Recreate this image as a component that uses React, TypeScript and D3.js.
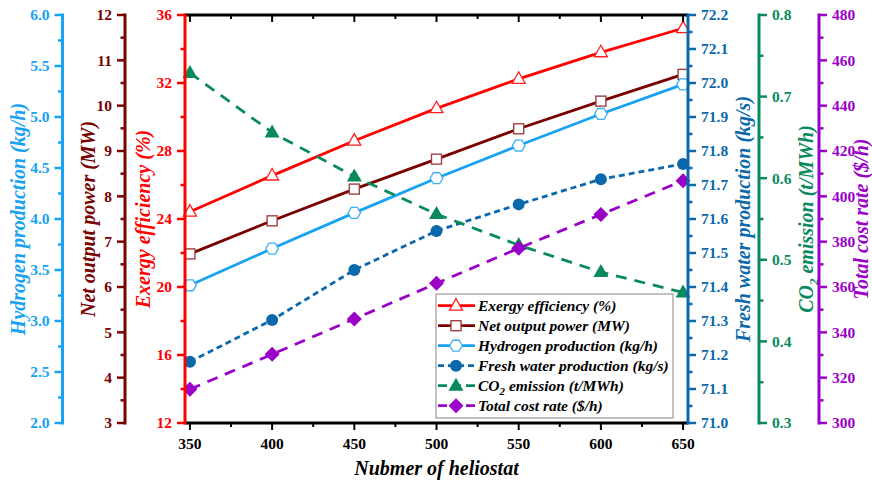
import React from 'react';
import * as d3 from 'd3';

const heliostats = [350, 400, 450, 500, 550, 600, 650];
const exergy = [24.43, 26.55, 28.6, 30.51, 32.24, 33.8, 35.22];
const netPower = [6.73, 7.46, 8.16, 8.82, 9.49, 10.1, 10.69];
const hydrogen = [3.35, 3.71, 4.06, 4.4, 4.72, 5.03, 5.32];
const freshWater = [71.18, 71.303, 71.45, 71.565, 71.643, 71.717, 71.762];
const co2 = [0.729, 0.656, 0.602, 0.556, 0.518, 0.485, 0.46];
const totalCost = [314.9, 330.3, 345.9, 361.6, 377.1, 392.0, 406.9];

const xTicks = [350, 400, 450, 500, 550, 600, 650];
const h2Ticks = [2.0, 2.5, 3.0, 3.5, 4.0, 4.5, 5.0, 5.5, 6.0];
const powerTicks = [3, 4, 5, 6, 7, 8, 9, 10, 11, 12];
const exergyTicks = [12, 16, 20, 24, 28, 32, 36];
const waterTicks = [71.0, 71.1, 71.2, 71.3, 71.4, 71.5, 71.6, 71.7, 71.8, 71.9, 72.0, 72.1, 72.2];
const co2Ticks = [0.3, 0.4, 0.5, 0.6, 0.7, 0.8];
const costTicks = [300, 320, 340, 360, 380, 400, 420, 440, 460, 480];

const FONT = "'Liberation Serif', 'Times New Roman', serif";
const P = { left: 185, right: 688, top: 15, bottom: 423 };

const C = {
  h2: '#18a2f2',
  power: '#7a0000',
  exergy: '#ff0000',
  water: '#0b68ab',
  co2: '#098a5c',
  cost: '#9a00c8',
};

const x = d3.scaleLinear().domain([347, 653]).range([P.left, P.right]);

type AxisSpec = {
  key: string;
  ticks: number[];
  fmt: (v: number) => string;
  pos: number;
  side: 'left' | 'right';
  color: string;
  titleX: number;
};

const axes: AxisSpec[] = [
  { key: 'h2', ticks: h2Ticks, fmt: d3.format('.1f'), pos: 62.5, side: 'left', color: C.h2, titleX: 18 },
  { key: 'power', ticks: powerTicks, fmt: d3.format('d'), pos: 125, side: 'left', color: C.power, titleX: 88 },
  { key: 'exergy', ticks: exergyTicks, fmt: d3.format('d'), pos: P.left, side: 'left', color: C.exergy, titleX: 143 },
  { key: 'water', ticks: waterTicks, fmt: d3.format('.1f'), pos: P.right, side: 'right', color: C.water, titleX: 743 },
  { key: 'co2', ticks: co2Ticks, fmt: d3.format('.1f'), pos: 759, side: 'right', color: C.co2, titleX: 806 },
  { key: 'cost', ticks: costTicks, fmt: d3.format('d'), pos: 819, side: 'right', color: C.cost, titleX: 861 },
];

const yScales: Record<string, d3.ScaleLinear<number, number>> = {};
axes.forEach((a) => {
  yScales[a.key] = d3
    .scaleLinear()
    .domain([a.ticks[0], a.ticks[a.ticks.length - 1]])
    .range([P.bottom, P.top]);
});

const titles: Record<string, React.ReactNode> = {
  h2: 'Hydrogen production (kg/h)',
  power: 'Net output power (MW)',
  exergy: 'Exergy efficiency (%)',
  water: 'Fresh water production (kg/s)',
  co2: (
    <>
      CO
      <tspan dy="5" fontSize="13">2</tspan>
      <tspan dy="-5"> emission (t/MWh)</tspan>
    </>
  ),
  cost: 'Total cost rate ($/h)',
};

type MarkerKind = 'triangleOpen' | 'square' | 'hexagon' | 'circle' | 'triangle' | 'diamond';

function Marker({ kind, cx, cy }: { kind: MarkerKind; cx: number; cy: number }) {
  switch (kind) {
    case 'triangleOpen': {
      const w = 13, h = 11.5;
      const pts = `${cx},${cy - h * 0.62} ${cx + w / 2},${cy + h * 0.38} ${cx - w / 2},${cy + h * 0.38}`;
      return <polygon points={pts} fill="#fff" stroke="#ff2020" strokeWidth={1.3} />;
    }
    case 'square':
      return <rect x={cx - 5} y={cy - 5} width={10} height={10} fill="#fff" stroke="#a04040" strokeWidth={1.4} />;
    case 'hexagon': {
      const r = 6.3;
      const pts = d3.range(6).map((i) => {
        const a = (Math.PI / 3) * i;
        return `${cx + r * Math.cos(a)},${cy + r * Math.sin(a)}`;
      }).join(' ');
      return <polygon points={pts} fill="#fff" stroke="#3cb2f5" strokeWidth={1.3} />;
    }
    case 'circle':
      return <circle cx={cx} cy={cy} r={6} fill={C.water} />;
    case 'triangle': {
      const w = 15, h = 13;
      const pts = `${cx},${cy - h * 0.62} ${cx + w / 2},${cy + h * 0.38} ${cx - w / 2},${cy + h * 0.38}`;
      return <polygon points={pts} fill={C.co2} />;
    }
    case 'diamond': {
      const r = 7.5;
      const pts = `${cx},${cy - r} ${cx + r},${cy} ${cx},${cy + r} ${cx - r},${cy}`;
      return <polygon points={pts} fill={C.cost} />;
    }
  }
  return null;
}

type SeriesSpec = {
  key: string;
  axis: string;
  values: number[];
  color: string;
  dash?: string;
  marker: MarkerKind;
  label: React.ReactNode;
};

const series: SeriesSpec[] = [
  { key: 'exergy', axis: 'exergy', values: exergy, color: C.exergy, marker: 'triangleOpen', label: 'Exergy efficiency (%)' },
  { key: 'power', axis: 'power', values: netPower, color: C.power, marker: 'square', label: 'Net output power (MW)' },
  { key: 'h2', axis: 'h2', values: hydrogen, color: C.h2, marker: 'hexagon', label: 'Hydrogen production (kg/h)' },
  { key: 'water', axis: 'water', values: freshWater, color: C.water, dash: '6 4', marker: 'circle', label: 'Fresh water production (kg/s)' },
  {
    key: 'co2', axis: 'co2', values: co2, color: C.co2, dash: '11 8', marker: 'triangle',
    label: (
      <>
        CO<tspan dy="4" fontSize="11">2</tspan><tspan dy="-4"> emission (t/MWh)</tspan>
      </>
    ),
  },
  { key: 'cost', axis: 'cost', values: totalCost, color: C.cost, dash: '11 8', marker: 'diamond', label: 'Total cost rate ($/h)' },
];

export default function App() {
  const xMinor = xTicks.slice(0, -1).map((t, i) => (t + xTicks[i + 1]) / 2);
  const legend = { x: 436, y: 294, w: 237, h: 124 };
  const rowH = 20;

  return (
    <svg
      width={872}
      height={481}
      style={{ position: 'absolute', left: 0, top: 0, background: '#fff' }}
      fontFamily={FONT}
    >
      <rect x={0} y={0} width={872} height={481} fill="#fff" />

      {/* Data lines */}
      {series.map((s) => {
        const y = yScales[s.axis];
        const line = d3.line<number>().x((_, i) => x(heliostats[i])).y((v) => y(v));
        return (
          <path key={s.key} d={line(s.values) || ''} fill="none" stroke={s.color} strokeWidth={2.8} strokeDasharray={s.dash} />
        );
      })}
      {series.map((s) => {
        const y = yScales[s.axis];
        return (
          <g key={s.key + 'm'}>
            {s.values.map((v, i) => (
              <Marker key={i} kind={s.marker} cx={x(heliostats[i])} cy={y(v)} />
            ))}
          </g>
        );
      })}

      {/* X frame */}
      <line x1={P.left} x2={P.right} y1={P.top} y2={P.top} stroke="#000" strokeWidth={3} />
      <line x1={P.left} x2={P.right} y1={P.bottom} y2={P.bottom} stroke="#000" strokeWidth={3} />
      {xTicks.map((t) => (
        <g key={'xt' + t}>
          <line x1={x(t)} x2={x(t)} y1={P.top} y2={P.top + 7} stroke="#000" strokeWidth={2} />
          <line x1={x(t)} x2={x(t)} y1={P.bottom} y2={P.bottom + 7} stroke="#000" strokeWidth={2} />
          <text x={x(t)} y={449} textAnchor="middle" fontSize={15.5} fontWeight="bold" fill="#000">
            {t}
          </text>
        </g>
      ))}
      {xMinor.map((t) => (
        <g key={'xm' + t}>
          <line x1={x(t)} x2={x(t)} y1={P.top} y2={P.top + 4} stroke="#000" strokeWidth={2} />
          <line x1={x(t)} x2={x(t)} y1={P.bottom} y2={P.bottom + 4} stroke="#000" strokeWidth={2} />
        </g>
      ))}
      <text x={436.5} y={475} textAnchor="middle" fontSize={20} fontWeight="bold" fontStyle="italic" fill="#000">
        Nubmer of heliostat
      </text>

      {/* Y axes */}
      {axes.map((a) => {
        const y = yScales[a.key];
        const dir = a.side === 'left' ? -1 : 1;
        const minors = a.ticks.slice(0, -1).map((t, i) => (t + a.ticks[i + 1]) / 2);
        return (
          <g key={a.key}>
            <line x1={a.pos} x2={a.pos} y1={P.top - 1.5} y2={P.bottom + 1.5} stroke={a.color} strokeWidth={3} />
            {a.ticks.map((t) => (
              <g key={t}>
                <line x1={a.pos} x2={a.pos + dir * 8} y1={y(t)} y2={y(t)} stroke={a.color} strokeWidth={2.5} />
                <text
                  x={a.pos + dir * 13}
                  y={y(t)}
                  dy="0.35em"
                  textAnchor={a.side === 'left' ? 'end' : 'start'}
                  fontSize={15.5}
                  fontWeight="bold"
                  fill={a.color}
                >
                  {a.fmt(t)}
                </text>
              </g>
            ))}
            {minors.map((t) => (
              <line key={'m' + t} x1={a.pos} x2={a.pos + dir * 4.5} y1={y(t)} y2={y(t)} stroke={a.color} strokeWidth={2.5} />
            ))}
            <text
              transform={`translate(${a.titleX},${(P.top + P.bottom) / 2}) rotate(-90)`}
              textAnchor="middle"
              dy="0.35em"
              fontSize={20}
              fontWeight="bold"
              fontStyle="italic"
              fill={a.color}
            >
              {titles[a.key]}
            </text>
          </g>
        );
      })}

      {/* Legend */}
      <rect x={legend.x} y={legend.y} width={legend.w} height={legend.h} fill="#fff" stroke="#9a9a9a" strokeWidth={1.2} />
      {series.map((s, i) => {
        const cy = legend.y + 11.7 + i * rowH;
        return (
          <g key={'lg' + s.key}>
            <line x1={legend.x + 2} x2={legend.x + 39} y1={cy} y2={cy} stroke={s.color} strokeWidth={2.8} strokeDasharray={s.dash ? (s.key === 'water' ? '6 4' : '9 5') : undefined} />
            <Marker kind={s.marker} cx={legend.x + 20} cy={cy} />
            <text x={legend.x + 42} y={cy} dy="0.35em" fontSize={15.5} fontWeight="bold" fontStyle="italic" fill="#000">
              {s.label}
            </text>
          </g>
        );
      })}
    </svg>
  );
}
